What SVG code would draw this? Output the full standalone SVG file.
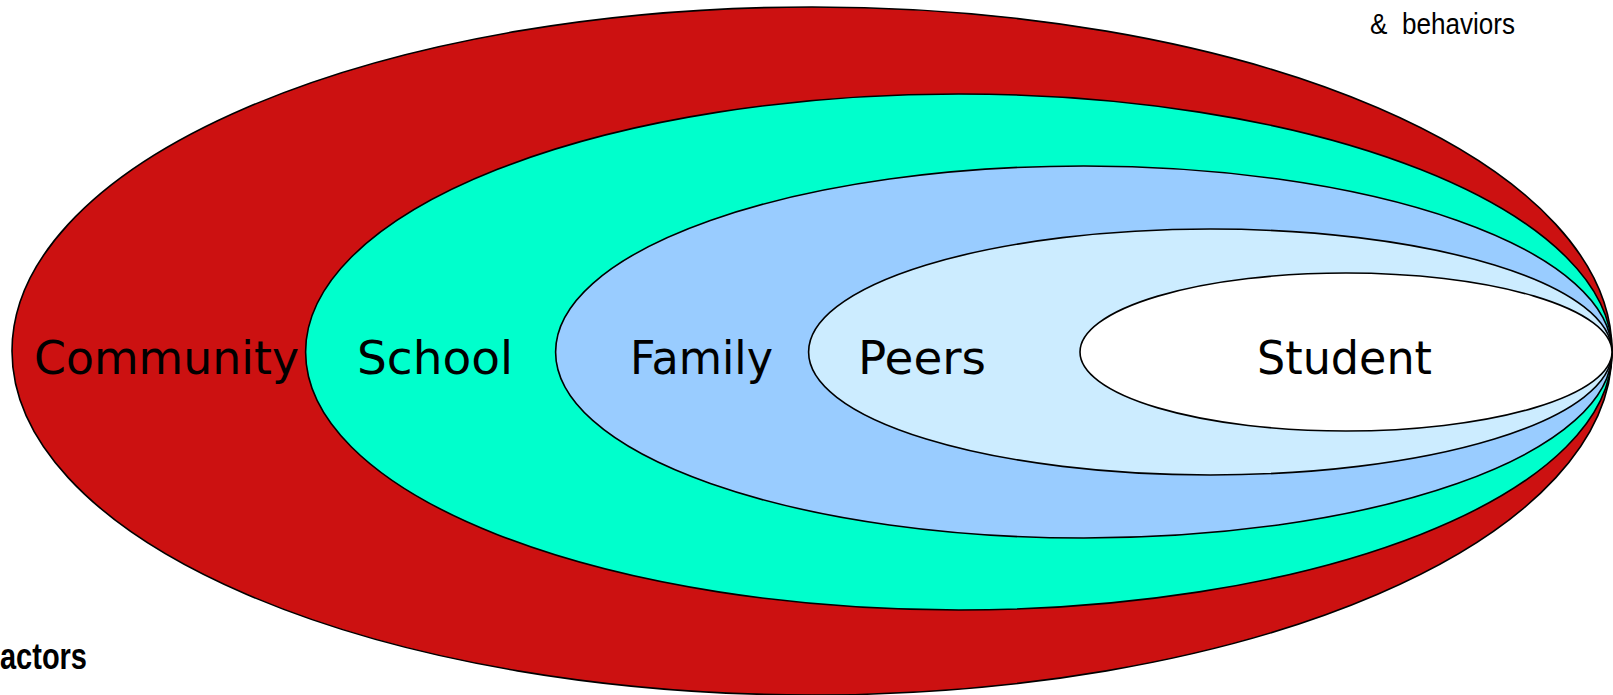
<svg xmlns="http://www.w3.org/2000/svg" width="1613" height="695" viewBox="0 0 1613 695">
<style>
.ring{stroke:#000;stroke-width:1.6}
.lbl{font-family:"DejaVu Sans","Liberation Sans",sans-serif;font-size:47px;fill:#000}
.note{font-family:"Liberation Sans",Arial,sans-serif;fill:#000}
</style>
<rect width="1613" height="695" fill="#fff"/>
<g id="community"><ellipse class="ring" cx="812" cy="351" rx="800" ry="344" fill="#CC1111"/><text class="lbl" x="34" y="374" textLength="265" lengthAdjust="spacingAndGlyphs">Community</text></g>
<g id="school"><ellipse class="ring" cx="958.8" cy="352" rx="653.2" ry="258" fill="#00FFCC"/><text class="lbl" x="357" y="374" textLength="156" lengthAdjust="spacingAndGlyphs">School</text></g>
<g id="family"><ellipse class="ring" cx="1083.8" cy="352" rx="528.2" ry="186" fill="#99CCFF"/><text class="lbl" x="630" y="374" textLength="143" lengthAdjust="spacingAndGlyphs">Family</text></g>
<g id="peers"><ellipse class="ring" cx="1210.3" cy="352" rx="401.7" ry="123" fill="#CCECFF"/><text class="lbl" x="858" y="374" textLength="128" lengthAdjust="spacingAndGlyphs">Peers</text></g>
<g id="student"><ellipse class="ring" cx="1346" cy="352" rx="266" ry="79" fill="#FFFFFF"/><text class="lbl" x="1257" y="374" textLength="175" lengthAdjust="spacingAndGlyphs">Student</text></g>
<g id="connectors"/>
<text class="note" x="1370" y="34" font-size="29" textLength="145" lengthAdjust="spacingAndGlyphs" xml:space="preserve">&amp;  behaviors</text>
<text class="note" x="0" y="669" font-size="37" font-weight="bold" textLength="87" lengthAdjust="spacingAndGlyphs">actors</text>
</svg>
